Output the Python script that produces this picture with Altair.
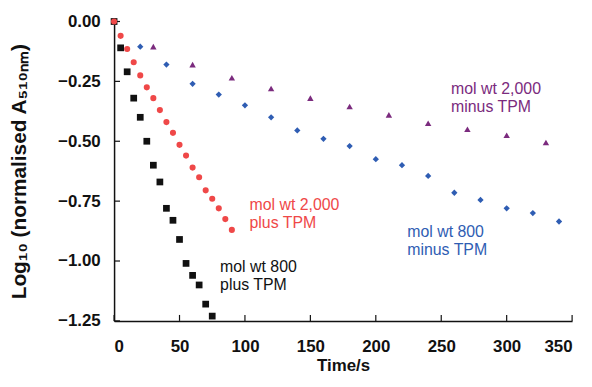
import altair as alt
import pandas as pd

# ---- data ----
t_800_plus = [0, 5, 10, 15, 20, 25, 30, 35, 40, 45, 50, 55, 60, 65, 70, 75]
y_800_plus = [0, -0.11, -0.21, -0.32, -0.40, -0.50, -0.60, -0.67, -0.78, -0.83,
              -0.91, -1.01, -1.06, -1.10, -1.18, -1.23]

t_2000_plus = [0, 5, 10, 15, 20, 25, 30, 35, 40, 45, 50, 55, 60, 65, 70, 75, 80, 85, 90]
y_2000_plus = [0, -0.06, -0.115, -0.17, -0.225, -0.275, -0.32, -0.37, -0.42, -0.465,
               -0.515, -0.56, -0.61, -0.65, -0.705, -0.74, -0.78, -0.825, -0.87]

t_800_minus = [0, 20, 40, 60, 80, 100, 120, 140, 160, 180, 200, 220, 240, 260, 280, 300, 320, 340]
y_800_minus = [0, -0.105, -0.18, -0.26, -0.305, -0.35, -0.40, -0.455, -0.49, -0.52,
               -0.575, -0.60, -0.645, -0.715, -0.745, -0.78, -0.80, -0.835]

t_2000_minus = [0, 30, 60, 90, 120, 150, 180, 210, 240, 270, 300, 330]
y_2000_minus = [0, -0.105, -0.18, -0.235, -0.28, -0.32, -0.355, -0.39, -0.425, -0.45, -0.475, -0.505]

series_names = ["mol wt 800 minus TPM", "mol wt 2,000 minus TPM",
                "mol wt 800 plus TPM", "mol wt 2,000 plus TPM"]
series_colors = ["#2f5db3", "#7b2b7e", "#111111", "#ef4848"]

label_text = [["mol wt 2,000", "plus TPM"], ["mol wt 800", "plus TPM"],
              ["mol wt 2,000", "minus TPM"], ["mol wt 800", "minus TPM"]]
label_series = ["mol wt 2,000 plus TPM", "mol wt 800 plus TPM",
                "mol wt 2,000 minus TPM", "mol wt 800 minus TPM"]
label_x = [103.5, 81, 257.5, 224]
label_y = [-0.767, -1.024, -0.283, -0.881]

x_ticks = [0, 50, 100, 150, 200, 250, 300, 350]
y_ticks = [0, -0.25, -0.5, -0.75, -1.0, -1.25]

FONT = "Liberation Sans"
W, H = 462, 302

xs = alt.Scale(domain=[0, 350], nice=False)
ys = alt.Scale(domain=[-1.25, 0], nice=False)
cs = alt.Scale(domain=series_names, range=series_colors)


def df(t, y, name):
    return pd.DataFrame({"t": t, "y": y, "s": name})


def pts(t, y, name, shape, size):
    return alt.Chart(df(t, y, name)).mark_point(
        shape=shape, filled=True, size=size, opacity=1
    ).encode(
        x=alt.X("t:Q", scale=xs,
                axis=alt.Axis(values=x_ticks, format=".0f", tickSize=0, labelPadding=18,
                              title="Time/s", titlePadding=3, grid=False)),
        y=alt.Y("y:Q", scale=ys,
                axis=alt.Axis(values=y_ticks, format=".2f", tickSize=0, labelPadding=14,
                              title="Log₁₀ (normalised A₅₁₀ₙₘ)", titlePadding=28,
                              titleFontSize=21, grid=False)),
        color=alt.Color("s:N", scale=cs, legend=None),
    )


blue = pts(t_800_minus, y_800_minus, series_names[0], "diamond", 40)
purple = pts(t_2000_minus, y_2000_minus, series_names[1], "triangle-up", 42)
black = pts(t_800_plus, y_800_plus, series_names[2], "square", 46)
red = pts(t_2000_plus, y_2000_plus, series_names[3], "circle", 38)

yt = alt.Chart(pd.DataFrame({"v": y_ticks})).mark_rule(color="#111", strokeWidth=1.2).encode(
    y=alt.Y("v:Q", scale=ys), x=alt.value(0), x2=alt.value(6))
xt = alt.Chart(pd.DataFrame({"v": x_ticks})).mark_rule(color="#111", strokeWidth=1.2).encode(
    x=alt.X("v:Q", scale=xs), y=alt.value(H), y2=alt.value(H - 6))

labels = alt.Chart(pd.DataFrame({"x": label_x, "y": label_y, "txt": label_text,
                                 "s": label_series})).mark_text(
    align="left", baseline="middle", font=FONT, fontSize=16, lineHeight=18, dy=0
).encode(
    x=alt.X("x:Q", scale=xs), y=alt.Y("y:Q", scale=ys), text="txt",
    color=alt.Color("s:N", scale=cs, legend=None))

chart = alt.layer(yt, xt, blue, purple, black, red, labels).properties(
    width=W, height=H,
    autosize=alt.AutoSizeParams(type="none"),
    padding={"left": 107, "top": 12, "right": 12, "bottom": 57},
    background="white",
).configure_view(stroke=None).configure_axis(
    domainColor="#111", domainWidth=1.5,
    labelFont=FONT, labelFontWeight="bold", labelFontSize=17, labelColor="#111",
    titleFont=FONT, titleFontWeight="bold", titleFontSize=17, titleColor="#111",
)

chart.save("out.html", embed_options={"renderer": "svg", "actions": False})
